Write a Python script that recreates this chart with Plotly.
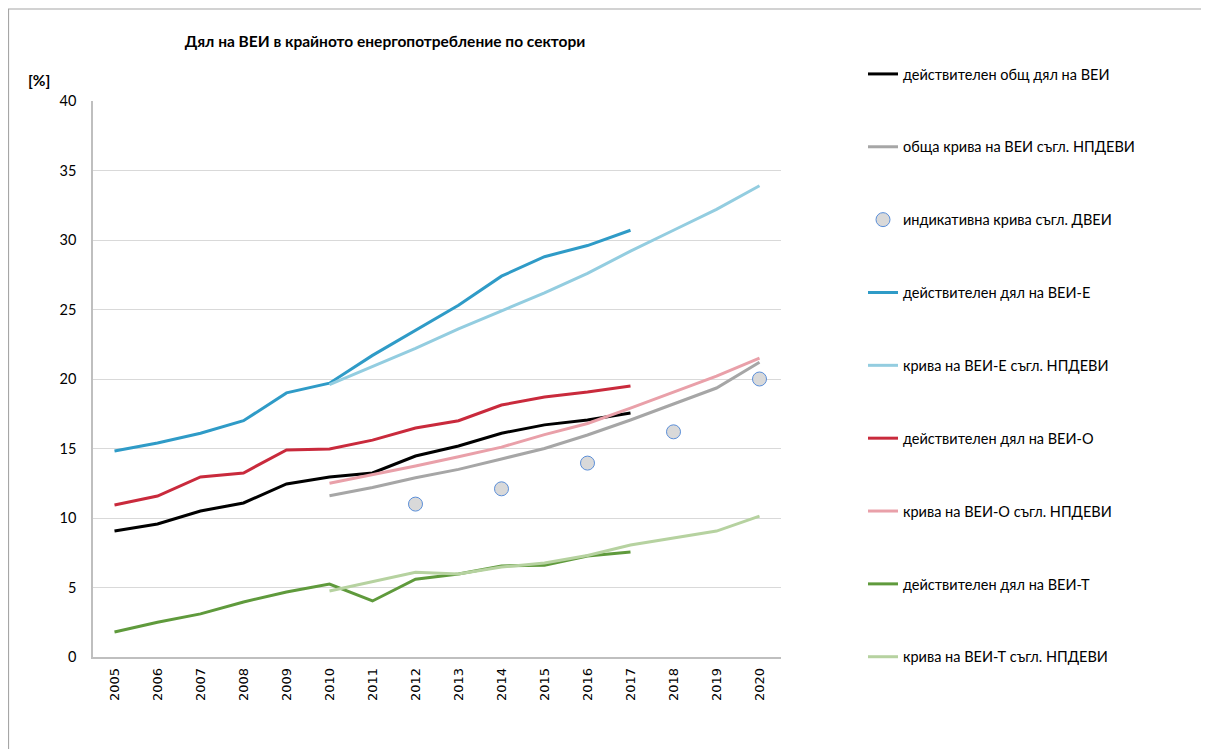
import plotly.graph_objects as go

years = [str(y) for y in range(2005, 2021)]
years_plan = [str(y) for y in range(2010, 2021)]
years_act = [str(y) for y in range(2005, 2018)]
years_ind = ["2012", "2014", "2016", "2018", "2020"]

total_actual = [9.06, 9.57, 10.5, 11.08, 12.45, 12.95, 13.24, 14.46, 15.18, 16.1, 16.7, 17.05, 17.55]
total_plan = [11.6, 12.2, 12.9, 13.5, 14.25, 15.0, 15.97, 17.05, 18.2, 19.35, 21.2]
indicative = [11.0, 12.1, 13.95, 16.2, 20.0]
e_actual = [14.82, 15.4, 16.1, 17.0, 19.0, 19.7, 21.7, 23.5, 25.3, 27.4, 28.8, 29.6, 30.7]
e_plan = [19.6, 20.9, 22.2, 23.6, 24.9, 26.2, 27.6, 29.2, 30.7, 32.2, 33.9]
o_actual = [10.94, 11.58, 12.95, 13.24, 14.9, 14.96, 15.6, 16.47, 17.0, 18.13, 18.7, 19.06, 19.5]
o_plan = [12.5, 13.1, 13.74, 14.4, 15.1, 16.0, 16.8, 17.9, 19.06, 20.2, 21.5]
t_actual = [1.8, 2.5, 3.1, 3.96, 4.68, 5.25, 4.03, 5.6, 5.97, 6.55, 6.6, 7.27, 7.55]
t_plan = [4.75, 5.4, 6.1, 5.97, 6.47, 6.76, 7.3, 8.06, 8.56, 9.06, 10.14]

series = [
    ("действителен общ дял на ВЕИ", years_act, total_actual, "#000000"),
    ("обща крива на ВЕИ съгл. НПДЕВИ", years_plan, total_plan, "#a6a6a6"),
    ("индикативна крива съгл. ДВЕИ", years_ind, indicative, None),
    ("действителен дял на ВЕИ-Е", years_act, e_actual, "#2f9bc7"),
    ("крива на ВЕИ-Е съгл. НПДЕВИ", years_plan, e_plan, "#93cde0"),
    ("действителен дял на ВЕИ-О", years_act, o_actual, "#c92a3c"),
    ("крива на ВЕИ-О съгл. НПДЕВИ", years_plan, o_plan, "#e9a0a9"),
    ("действителен дял на ВЕИ-Т", years_act, t_actual, "#5f9a3c"),
    ("крива на ВЕИ-Т съгл. НПДЕВИ", years_plan, t_plan, "#b6d2a0"),
]

fig = go.Figure()
for i, (name, xs, ys, color) in enumerate(series):
    if color is None:
        fig.add_trace(go.Scatter(
            x=xs, y=ys, name=name, mode="markers", legendgroup=str(i),
            marker=dict(size=14, color="#d9d9d9", line=dict(color="#5b8fd9", width=1)),
        ))
    else:
        fig.add_trace(go.Scatter(
            x=xs, y=ys, name=name, mode="lines", legendgroup=str(i),
            line=dict(color=color, width=3),
        ))

W, H = 1209, 749
L, T, R, B = 85, 93, 773, 649
pw, ph = R - L, B - T

fig.update_layout(
    width=W, height=H,
    margin=dict(l=L, r=W - R, t=T, b=H - B),
    paper_bgcolor="white", plot_bgcolor="white",
    font=dict(family="Lato, Open Sans, sans-serif", size=14, color="#000000"),
    title=dict(text="<b>Дял на ВЕИ в крайното енергопотребление по сектори</b>",
               x=377 / W, xanchor="center", y=1 - 34 / H, yanchor="middle",
               font=dict(size=15.5)),
    showlegend=True,
    legend=dict(x=(855 - L) / pw, xanchor="left", y=(B - 50) / ph, yanchor="top",
                tracegroupgap=51, itemwidth=30, traceorder="grouped",
                maxheight=740,
                font=dict(size=14.5), bgcolor="rgba(0,0,0,0)"),
    xaxis=dict(type="category", categoryorder="array", categoryarray=years,
               range=[-0.5, 15.5], tickangle=-90, showgrid=False,
               showline=True, linecolor="#bfbfbf", linewidth=1.5, ticks="",
               tickfont=dict(family="DejaVu Sans", size=13), fixedrange=True,
               ticklabelstandoff=4),
    yaxis=dict(range=[0, 40], dtick=5, showgrid=True, gridcolor="#d9d9d9",
               showline=True, linecolor="#bfbfbf", linewidth=1.5, ticks="",
               tickfont=dict(family="Lato, Open Sans", size=14.5),
               zeroline=False, ticklabelstandoff=12),
    annotations=[dict(text="<b>[%]</b>", xref="paper", yref="paper",
                      x=(31 - L) / pw, y=(B - 72) / ph, showarrow=False,
                      xanchor="center", yanchor="middle",
                      font=dict(size=15.5))],
    shapes=[dict(type="rect", xref="paper", yref="paper",
                 x0=(0.5 - L) / pw, x1=(W + 20 - L) / pw,
                 y0=(B - H - 20) / ph, y1=(B - 1) / ph,
                 line=dict(color="#a6a6a6", width=1.2), fillcolor="rgba(0,0,0,0)",
                 layer="below")],
)

fig.write_html("out.html")
